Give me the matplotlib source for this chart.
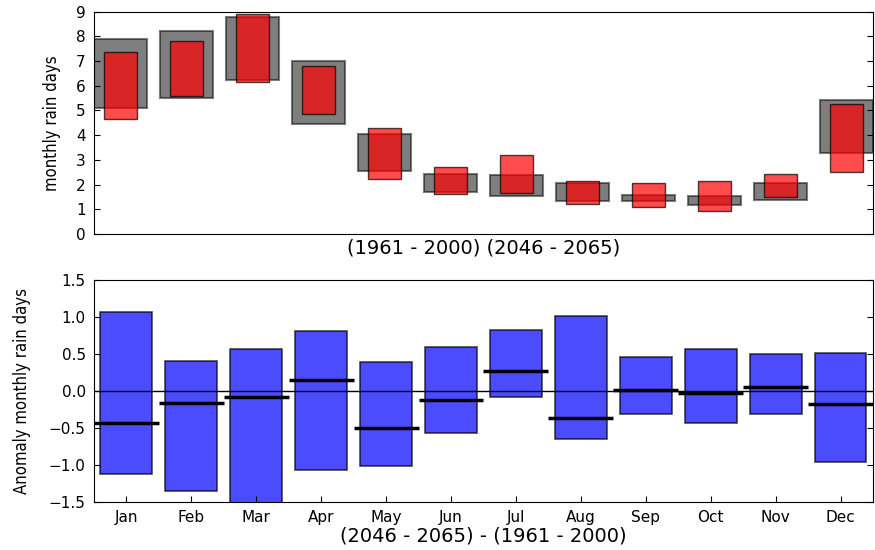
import matplotlib
matplotlib.use("Agg")
import matplotlib.pyplot as plt
import numpy as np

# monthly rain days, low/high of each period
months = ['Jan', 'Feb', 'Mar', 'Apr', 'May', 'Jun',
          'Jul', 'Aug', 'Sep', 'Oct', 'Nov', 'Dec']
past_low = [5.08, 5.52, 6.24, 4.47, 2.56, 1.72, 1.52, 1.32, 1.32, 1.16, 1.39, 3.26]
past_high = [7.88, 8.21, 8.77, 6.98, 4.04, 2.43, 2.37, 2.05, 1.59, 1.54, 2.05, 5.42]
fut_low = [4.66, 5.59, 6.17, 4.85, 2.24, 1.60, 1.66, 1.21, 1.09, 0.93, 1.48, 2.49]
fut_high = [7.38, 7.82, 8.90, 6.78, 4.30, 2.71, 3.19, 2.16, 2.07, 2.13, 2.44, 5.28]

# anomaly (2046-2065) - (1961-2000)
anom_low = [-1.12, -1.35, -1.55, -1.07, -1.02, -0.57, -0.08, -0.65, -0.31, -0.44, -0.32, -0.96]
anom_high = [1.06, 0.40, 0.56, 0.81, 0.39, 0.59, 0.82, 1.01, 0.46, 0.56, 0.49, 0.515]
anom_mean = [-0.44, -0.16, -0.09, 0.15, -0.50, -0.13, 0.27, -0.37, 0.01, -0.035, 0.05, -0.175]

plt.rcParams['xtick.direction'] = 'in'
plt.rcParams['ytick.direction'] = 'in'
plt.rcParams['xtick.major.size'] = 4
plt.rcParams['ytick.major.size'] = 4

fig = plt.figure(figsize=(8.75, 5.5), dpi=100)
ax1 = fig.add_axes([0.1074, 0.5745, 0.8906, 0.4045])
ax2 = fig.add_axes([0.1074, 0.0873, 0.8903, 0.4045])

x = np.arange(len(months))
past_low = np.array(past_low)
fut_low = np.array(fut_low)
ax1.bar(x, np.array(past_high) - past_low, bottom=past_low, width=0.8,
        align='edge', color='k', alpha=0.5, edgecolor='k', linewidth=1.5)
ax1.bar(x + 0.15, np.array(fut_high) - fut_low, bottom=fut_low, width=0.5,
        align='edge', color='r', alpha=0.7, edgecolor='k', linewidth=1)
ax1.set_xlim(0, 11.8)
ax1.set_ylim(0, 9)
ax1.set_yticks(range(10))
ax1.set_xticks([])
ax1.tick_params(axis='y', right=True, labelsize=11, pad=6)
ax1.set_xlabel('(1961 - 2000) (2046 - 2065)', fontsize=14, labelpad=3)
ax1.set_ylabel('monthly rain days', fontsize=12, fontstretch='condensed', labelpad=11)

anom_low = np.array(anom_low)
ax2.bar(x + 0.1, np.array(anom_high) - anom_low, bottom=anom_low, width=0.8,
        align='edge', color='b', alpha=0.7, edgecolor='k', linewidth=1.2)
ax2.hlines(anom_mean, x, x + 1, colors='k', linewidth=2.5)
ax2.axhline(0, color='k', linewidth=1)
ax2.set_xlim(0, 12)
ax2.set_ylim(-1.5, 1.5)
ax2.set_yticks(np.arange(-1.5, 1.51, 0.5))
ax2.set_xticks(x + 0.5)
ax2.set_xticklabels(months)
ax2.tick_params(axis='y', right=True, labelsize=11, pad=6)
ax2.tick_params(axis='x', labelsize=11, pad=6)
ax2.set_xlabel('(2046 - 2065) - (1961 - 2000)', fontsize=14, labelpad=1)
ax2.set_ylabel('Anomaly monthly rain days', fontsize=12, fontstretch='condensed', labelpad=13)

fig.savefig('out.png', dpi=100)
